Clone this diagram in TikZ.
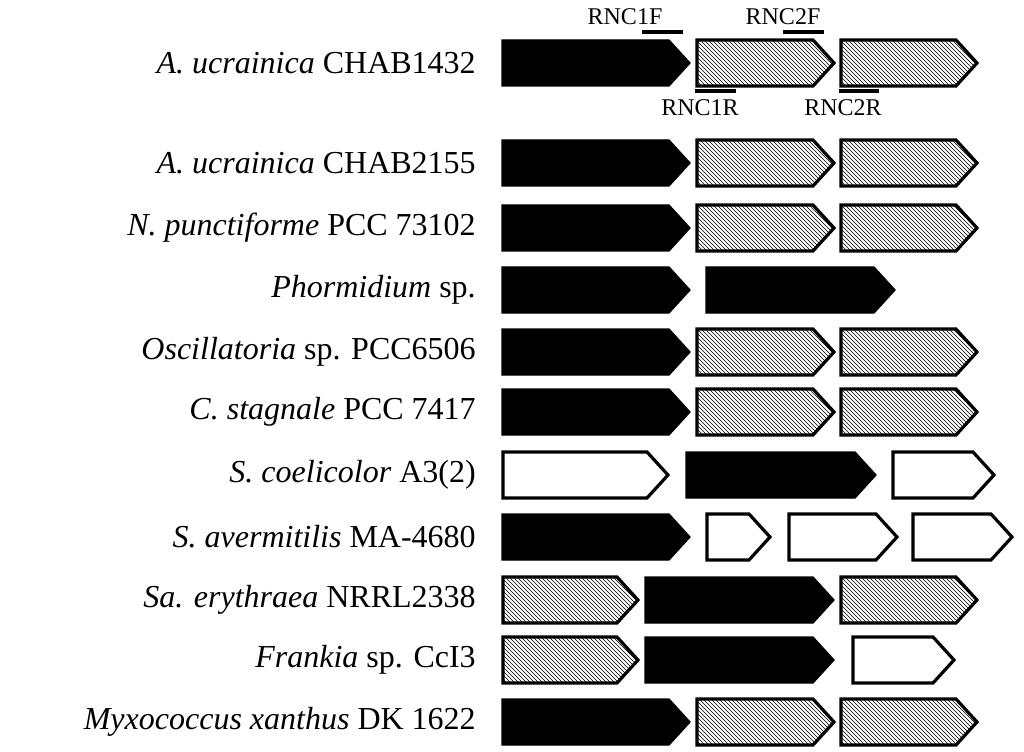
\documentclass[tikz,border=0pt]{standalone}
\usepackage{fontspec}
\setmainfont{Liberation Serif}
\usetikzlibrary{patterns}

% gene arrow: style, x start, x end, row centre
\newcommand{\gene}[4][solid gene]{%
  \draw[#1] (#2,#4-23) -- (#3-21,#4-23) -- (#3,#4) -- (#3-21,#4+23) -- (#2,#4+23) -- cycle;}

\begin{document}
\begin{tikzpicture}[x=0.75pt,y=-0.75pt,
   solid gene/.style={fill=black,draw=black,line width=1pt},
   hatch gene/.style={draw=black,line width=2.4pt,pattern=north west lines},
   open gene/.style={draw=black,line width=2.4pt,fill=white},
   strain/.style={anchor=east,font=\fontsize{24}{26}\selectfont,inner sep=0pt},
   primer/.style={line width=3pt},
   plabel/.style={font=\fontsize{18}{20}\selectfont,inner sep=0pt}]
 \useasboundingbox (0,0) rectangle (1024,752);

 %strain names
 \node[strain] (s1)  at (476,63)  {\textit{A. ucrainica} CHAB1432};
 \node[strain] (s2)  at (476,163) {\textit{A. ucrainica} CHAB2155};
 \node[strain] (s3)  at (476,228) {\textit{N. punctiforme} PCC 73102};
 \node[strain] (s4)  at (476,290) {\textit{Phormidium} sp.};
 \node[strain] (s5)  at (476,352) {\textit{Oscillatoria} sp. PCC6506};
 \node[strain] (s6)  at (476,412) {\textit{C. stagnale} PCC 7417};
 \node[strain] (s7)  at (476,475) {\textit{S. coelicolor} A3(2)};
 \node[strain] (s8)  at (476,537) {\textit{S. avermitilis} MA-4680};
 \node[strain] (s9)  at (476,600) {\textit{Sa. erythraea} NRRL2338};
 \node[strain] (s10) at (476,660) {\textit{Frankia} sp. CcI3};
 \node[strain] (s11) at (476,722) {\textit{Myxococcus xanthus} DK 1622};

 %clusters with black - hatch - hatch
 \foreach \y in {63,163,228,352,412,722}{
   \gene{502}{690}{\y}
   \gene[hatch gene]{697}{834}{\y}
   \gene[hatch gene]{841}{977}{\y}
 }
 %Phormidium
 \gene{502}{690}{290}
 \gene{706}{895}{290}
 %S. coelicolor
 \gene[open gene]{503}{668}{475}
 \gene{686}{876}{475}
 \gene[open gene]{893}{994}{475}
 %S. avermitilis
 \gene{502}{690}{537}
 \gene[open gene]{707}{770}{537}
 \gene[open gene]{789}{897}{537}
 \gene[open gene]{913}{1012}{537}
 %Sa. erythraea
 \gene[hatch gene]{503}{638}{600}
 \gene{645}{834}{600}
 \gene[hatch gene]{841}{977}{600}
 %Frankia
 \gene[hatch gene]{503}{638}{660}
 \gene{645}{834}{660}
 \gene[open gene]{853}{954}{660}

 %primers
 \draw[primer] (642,32) -- (683,32);
 \draw[primer] (783,32) -- (824,32);
 \draw[primer] (695,91) -- (736,91);
 \draw[primer] (839,91) -- (879,91);
 \node[plabel] (p1f) at (625,17)  {RNC1F};
 \node[plabel] (p2f) at (783,17)  {RNC2F};
 \node[plabel] (p1r) at (700,108) {RNC1R};
 \node[plabel] (p2r) at (843,108) {RNC2R};
\end{tikzpicture}
\end{document}
